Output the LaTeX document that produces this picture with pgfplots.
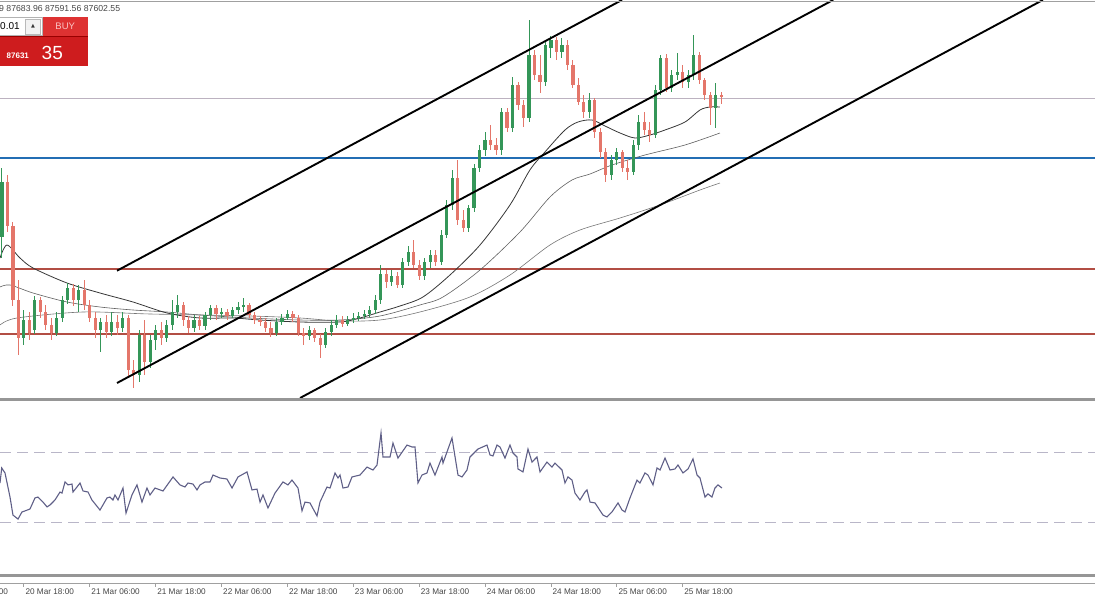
\documentclass[border=0pt]{standalone}
\usepackage{pgfplots}
\pgfplotsset{compat=1.18}
\usepackage{pgfplotstable}
\usepackage{fontspec}
\setmainfont{Liberation Sans}
\newfontfamily\symfont{DejaVu Sans}

\definecolor{upc}{RGB}{52,150,88}
\definecolor{dnc}{RGB}{228,118,106}
\definecolor{maA}{RGB}{55,55,55}
\definecolor{maB}{RGB}{95,95,95}
\definecolor{maC}{RGB}{118,118,118}
\definecolor{lvlblue}{RGB}{35,110,180}
\definecolor{lvlred}{RGB}{178,78,68}
\definecolor{lvlgrey}{RGB}{188,178,192}
\definecolor{rsic}{RGB}{95,95,135}
\definecolor{rsilvl}{RGB}{185,182,200}
\definecolor{sepgrey}{RGB}{150,150,150}
\definecolor{timegrey}{RGB}{160,160,160}
\definecolor{labgrey}{RGB}{70,70,70}
\definecolor{btnred}{RGB}{206,28,30}
\definecolor{btnred2}{RGB}{222,50,50}
\definecolor{buytext}{RGB}{250,195,195}

% hourly candles: h = hours after 20 Mar 18:00; values in chart units
\pgfplotstableread{
h o hi lo c
-4 163 232 142 218
-3 218 225 168 174
-2 174 178 94 100
-1 100 120 45 62
0 62 90 55 80
1 80 88 60 67
2 70 104 66 100
3 100 103 82 88
4 88 95 70 75
5 75 82 60 67
6 67 88 64 82
7 82 104 78 100
8 100 117 96 112
9 112 116 94 100
10 100 115 88 110
11 110 120 90 95
12 95 100 78 82
13 82 88 62 70
14 70 82 48 78
15 78 85 62 68
16 68 88 64 78
17 78 85 65 72
18 72 88 68 82
19 82 85 22 30
20 30 40 12 25
21 25 70 18 65
22 65 80 25 38
23 38 65 32 60
24 60 75 50 70
25 70 78 55 62
26 62 80 58 75
27 75 100 70 88
28 88 105 82 95
29 95 98 74 80
30 80 84 67 72
31 72 85 68 80
32 80 84 70 74
33 74 88 70 85
34 85 95 80 92
35 92 95 80 86
36 86 92 82 88
37 88 91 80 84
38 84 93 82 90
39 90 98 86 93
40 93 102 88 95
41 95 97 82 85
42 85 88 76 80
43 80 84 74 78
44 78 82 68 72
45 72 78 63 67
46 67 82 64 78
47 78 86 75 82
48 82 90 80 86
49 86 89 78 82
50 82 85 64 67
51 67 72 55 64
52 64 74 60 70
53 70 72 58 62
54 62 66 42 55
55 55 72 52 68
56 68 80 64 75
57 75 85 72 80
58 80 84 73 76
59 76 84 74 80
60 80 87 77 82
61 82 88 79 84
62 84 90 81 86
63 86 94 83 90
64 90 105 86 100
65 100 135 96 126
66 126 130 112 118
67 118 130 114 124
68 124 128 112 115
69 115 142 112 138
70 138 154 134 148
71 148 160 132 135
72 135 140 120 124
73 124 142 120 138
74 138 150 132 145
75 145 150 134 138
76 138 170 135 165
77 165 200 162 195
78 195 230 190 222
79 222 240 175 180
80 180 190 168 172
81 172 195 168 192
82 192 236 188 232
83 232 255 228 250
84 250 268 244 260
85 260 275 250 255
86 255 262 245 250
87 250 292 245 288
88 288 292 268 272
89 272 323 268 315
90 315 318 290 295
91 295 300 273 282
92 282 380 278 345
93 345 350 320 325
94 325 345 307 318
95 318 360 314 355
96 352 364 342 360
97 360 363 340 348
98 348 362 342 355
99 355 360 330 335
100 335 340 312 315
101 315 322 295 298
102 298 305 282 288
103 288 307 282 300
104 300 302 262 268
105 268 272 242 248
106 248 252 218 225
107 225 245 220 240
108 240 252 235 248
109 248 250 228 232
110 232 240 220 228
111 228 260 225 255
112 255 285 250 278
113 278 288 265 270
114 270 278 258 265
115 265 315 262 310
116 310 345 305 342
117 342 346 308 312
118 312 330 308 325
119 325 347 320 328
120 328 335 312 318
121 318 330 312 325
122 325 365 320 345
123 345 348 316 320
124 320 322 300 305
125 305 308 275 292
126 292 317 272 305
127 305 308 296 303
}\candles

\pgfplotsset{
  candle/.style n args={2}{draw=none, mark=none, no markers,
    error bars/.cd, y dir=both, y explicit, error mark=none,
    error bar style={line width=#1, draw=#2, solid}, /pgfplots/.cd},
}

\begin{document}
\begin{tikzpicture}[x=1pt,y=1pt]
\useasboundingbox (0,0) rectangle (1095,600);

% ---------------- main price panel ----------------
\begin{axis}[at={(0pt,202pt)}, anchor=south west, scale only axis,
  width=1095pt, height=398pt,
  xmin=-4.353, xmax=195.1, ymin=2, ymax=400,
  axis lines=none, clip=true]

% horizontal levels
\addplot[lvlgrey, line width=1pt] coordinates {(-10,301) (200,301)};
\addplot[lvlblue, line width=1.3pt] coordinates {(-10,242) (200,242)};
\addplot[lvlred, line width=1.4pt] coordinates {(-10,131) (200,131)};
\addplot[lvlred, line width=1.4pt] coordinates {(-10,66) (200,66)};

% moving averages
\addplot[maC, line width=0.6pt, smooth, tension=0.5] coordinates {
(-4.35,75) (-1.26,82) (10.77,88) (22.97,86) (41.18,84) (50.29,82) (57.58,79)
(64.86,80) (72.13,88) (81.25,103) (88.54,125) (95.83,155) (101.29,170)
(108.58,182) (115.87,195) (123.15,210) (126.79,217)};
\addplot[maB, line width=0.6pt, smooth, tension=0.5] coordinates {
(-4.35,113) (-2.53,115) (1.66,107) (7.85,98) (13.86,93) (19.87,90) (26.07,88)
(32.08,85) (41.18,82) (50.29,80) (57.58,80) (64.86,84) (72.13,95) (76.34,103)
(83.08,130) (90.36,168) (95.83,203) (99.84,220) (103.12,226) (107.12,235)
(113.13,245) (120.42,255) (126.79,267)};
\addplot[maA, line width=0.8pt, smooth, tension=0.5] coordinates {
(-4.35,142) (-3.08,155) (-0.71,142) (1.66,132) (7.85,117) (13.86,107) (19.87,98)
(26.07,87) (32.08,82) (38.09,82) (43.01,80) (50.29,78) (57.58,78) (61.22,82)
(64.86,88) (68.51,94) (72.69,103) (77.61,125) (83.08,155) (88.54,195)
(92.17,230) (94.91,248) (98.56,270) (100.93,278) (103.48,280) (105.85,274)
(108.58,267) (111.31,262) (114.04,265) (116.78,270) (120.42,278) (123.15,290)
(124.97,293) (126.79,293)};

% candles: up (wick, then body)
\addplot[restrict expr to domain={\thisrow{c}-\thisrow{o}}{0:1000},
  candle={0.9pt}{upc}]
  table[x=h, y expr={(\thisrow{hi}+\thisrow{lo})/2},
        y error expr={(\thisrow{hi}-\thisrow{lo})/2}] {\candles};
\addplot[restrict expr to domain={\thisrow{c}-\thisrow{o}}{0:1000},
  candle={3.2pt}{upc}]
  table[x=h, y expr={(\thisrow{o}+\thisrow{c})/2},
        y error expr={abs(\thisrow{c}-\thisrow{o})/2}] {\candles};
% candles: down
\addplot[restrict expr to domain={\thisrow{c}-\thisrow{o}}{-1000:-0.01},
  candle={0.9pt}{dnc}]
  table[x=h, y expr={(\thisrow{hi}+\thisrow{lo})/2},
        y error expr={(\thisrow{hi}-\thisrow{lo})/2}] {\candles};
\addplot[restrict expr to domain={\thisrow{c}-\thisrow{o}}{-1000:-0.01},
  candle={3.2pt}{dnc}]
  table[x=h, y expr={(\thisrow{o}+\thisrow{c})/2},
        y error expr={abs(\thisrow{c}-\thisrow{o})/2}] {\candles};

% channel lines
\addplot[black, line width=1.9pt] coordinates {(16.96,129.3) (108.94,400)};
\addplot[black, line width=1.9pt] coordinates {(16.96,17) (147.4,400)};
\addplot[black, line width=1.9pt] coordinates {(50.3,2) (185.6,400)};
\end{axis}

% ---------------- RSI panel ----------------
\begin{axis}[at={(0pt,25pt)}, anchor=south west, scale only axis,
  width=1095pt, height=175pt,
  xmin=-4.353, xmax=195.1, ymin=-0.58, ymax=100.4,
  axis lines=none, clip=true]
\addplot[rsilvl, line width=0.9pt, dash pattern=on 11pt off 6pt] coordinates {(-4.353,70) (195.1,70)};
\addplot[rsilvl, line width=0.9pt, dash pattern=on 11pt off 6pt] coordinates {(-4.353,30) (195.1,30)};
\addplot[rsic, line width=1.1pt] coordinates {
(-4.35,52.5) (-4.04,61.2) (-3.44,58.3) (-2.53,44.4) (-1.99,34.0) (-1.07,31.7)
(-0.35,35.8) (0.20,36.4) (1.11,37.5) (2.02,43.9) (2.57,44.4) (3.48,41.5)
(4.21,38.7) (4.75,39.8) (5.66,42.7) (6.58,47.3) (6.94,46.7) (7.49,53.1)
(8.03,51.4) (8.76,51.9) (8.94,47.3) (9.67,50.2) (10.22,52.5) (10.77,47.9)
(11.68,47.3) (12.40,42.7) (13.86,36.9) (15.14,43.9) (15.68,44.4) (16.23,42.7)
(16.59,45.6) (17.14,42.7) (18.05,49.6) (18.60,35.2) (19.69,45.6) (20.60,51.4)
(21.51,41.5) (22.42,49.6) (22.97,45.6) (23.88,49.6) (25.34,47.9) (27.16,56.0)
(28.43,51.4) (29.34,50.2) (29.89,52.5) (30.80,51.9) (31.53,48.5) (32.08,51.4)
(32.99,53.1) (33.90,53.1) (34.45,57.1) (35.72,55.4) (36.99,54.8) (37.91,49.6)
(39.00,56.0) (40.64,58.9) (41.55,48.5) (42.46,49.0) (43.01,41.5) (43.55,45.6)
(44.46,38.1) (45.74,46.7) (47.19,53.1) (48.10,51.4) (48.83,54.2) (49.93,49.6)
(50.66,36.4) (51.20,41.5) (52.11,41.0) (53.39,33.5) (53.93,41.5) (55.21,50.2)
(55.76,49.6) (56.67,58.3) (57.21,55.4) (57.58,57.1) (58.12,49.6) (59.03,50.2)
(59.76,56.0) (61.22,57.1) (62.50,61.7) (63.59,60.0) (64.32,62.9) (65.05,81.4)
(65.41,67.5) (66.69,67.5) (67.23,75.6) (68.14,66.9) (69.78,74.4) (70.69,73.3)
(71.24,73.3) (71.78,52.5) (72.51,57.1) (73.42,58.3) (73.97,64.0) (74.88,57.1)
(76.16,67.5) (76.34,64.0) (77.98,78.5) (79.07,57.1) (79.80,56.0) (80.71,60.0)
(81.25,67.5) (82.71,72.1) (84.35,74.4) (84.90,68.7) (85.44,68.1) (86.17,74.4)
(86.72,73.3) (87.63,66.9) (88.54,74.4) (89.09,69.8) (89.82,67.5) (90.00,60.6)
(90.91,58.9) (91.82,72.1) (92.55,64.6) (93.46,67.5) (94.01,58.9) (95.28,64.6)
(96.19,61.7) (96.74,64.0) (98.02,60.0) (98.56,52.5) (99.11,56.0) (99.84,54.2)
(100.38,46.7) (101.29,42.7) (102.20,47.3) (102.57,48.5) (103.12,41.5) (104.03,41.0)
(105.48,34.0) (106.21,32.9) (107.12,35.8) (108.22,41.0) (108.95,36.9) (109.49,35.8)
(110.40,43.9) (111.68,54.2) (112.22,52.5) (113.13,58.3) (113.68,57.1) (114.59,51.4)
(115.32,61.2) (115.87,60.0) (116.78,66.9) (117.69,60.0) (118.60,60.6) (119.14,62.9)
(120.05,58.3) (120.97,60.6) (121.88,66.4) (122.61,57.1) (123.15,55.4) (124.06,44.4)
(124.61,46.2) (125.33,44.4) (125.88,49.6) (126.43,51.4) (127.16,49.6)};
\end{axis}

% ---------------- time scale ----------------
\begin{axis}[at={(0pt,16.3pt)}, anchor=south west, scale only axis,
  width=1095pt, height=8.7pt,
  xmin=-4.353, xmax=195.1, ymin=0, ymax=1,
  axis x line=bottom, hide y axis,
  axis line style={-, draw=timegrey, line width=0.9pt},
  xtick={0,12,24,36,48,60,72,84,96,108,120},
  xticklabels={20 Mar 18:00,21 Mar 06:00,21 Mar 18:00,22 Mar 06:00,22 Mar 18:00,23 Mar 06:00,23 Mar 18:00,24 Mar 06:00,24 Mar 18:00,25 Mar 06:00,25 Mar 18:00},
  xtick align=outside, major tick length=3pt,
  tick style={draw=timegrey, line width=0.8pt},
  xticklabel style={font=\fontsize{8.2}{9}\selectfont, text=labgrey,
    anchor=north west, inner sep=0pt, xshift=1.5pt, yshift=-2pt}]
\addplot[draw=none] coordinates {(0,0.5)};
\end{axis}
\node[anchor=north west, inner sep=0pt, font=\fontsize{8.2}{9}\selectfont, text=labgrey]
  at (-40.6,11.3) {20 Mar 06:00};

% ---------------- frame lines ----------------
\draw[draw=timegrey, line width=0.9pt] (0,598.3) -- (1095,598.3);
\draw[draw=sepgrey, line width=2.4pt] (0,200.5) -- (1095,200.5);
\draw[draw=sepgrey, line width=3pt] (0,24.7) -- (1095,24.7);

% ---------------- header text and trade panel ----------------
\node[anchor=west, inner sep=0pt, text=labgrey, font=\fontsize{8.7}{10}\selectfont]
  at (-1,591) {9 87683.96 87591.56 87602.55};
\fill[white] (-1,564.5) rectangle (42,582.5);
\draw[gray!60, line width=0.7pt] (-1,564.5) rectangle (42,582.5);
\node[anchor=west, inner sep=0pt, font=\fontsize{10}{11}\selectfont] at (0,573.5) {0.01};
\draw[gray!55, fill=gray!10, line width=0.6pt] (25.5,566) rectangle (40.5,581);
\node[inner sep=0pt, font=\symfont\fontsize{5}{5}\selectfont, text=black!80] at (33,573.5) {▲};
\fill[btnred2] (43,564) rectangle (87.5,583);
\node[inner sep=0pt, text=buytext, font=\fontsize{9.5}{10}\selectfont] at (65.2,573.5) {BUY};
\fill[btnred] (-1,534) rectangle (87.5,564);
\draw[red!60!black, line width=0.4pt] (-1,564) -- (87.5,564);
\node[anchor=base west, inner sep=0pt, text=white, font=\bfseries\fontsize{8}{9}\selectfont]
  at (6.5,541) {87631};
\node[anchor=base west, inner sep=0pt, text=white, font=\fontsize{19}{20}\selectfont]
  at (41.5,540) {35};
\end{tikzpicture}
\end{document}
